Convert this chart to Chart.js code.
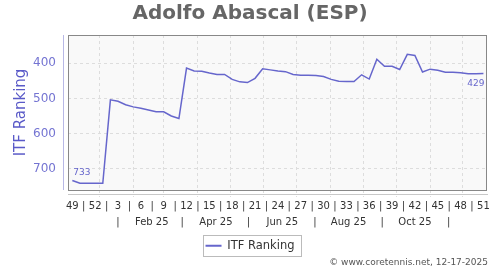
<!DOCTYPE html>
<html><head><meta charset="utf-8">
<script src="https://cdn.jsdelivr.net/npm/chart.js@4"></script>
<style>html,body{margin:0;padding:0;background:#fff}#w{width:500px;height:270px;position:relative}</style>
</head><body><div id="w"><canvas id="c"></canvas></div>
<script>
const chartTitle = 'Adolfo Abascal (ESP)';
const seriesName = 'ITF Ranking';
const footerText = '\u00A9 www.coretennis.net, 12-17-2025';
// week numbers shown on the first axis row (every 3rd week, from week 49 of 2024)
const weekTicks = [49, 52, 3, 6, 9, 12, 15, 18, 21, 24, 27, 30, 33, 36, 39, 42, 45, 48, 51];
// weekly ITF ranking, week 49/2024 .. week 51/2025
const rankings = [733, 741, 741, 741, 741, 504, 508, 518, 524, 528, 533, 538, 538, 550, 557,
  414, 422, 423, 428, 432, 432, 446, 453, 455, 443, 416, 419, 422, 424, 432, 434, 434, 435, 438, 446,
  451, 452, 452, 433, 445, 389, 409, 409, 418, 375, 378, 425, 417, 420, 426, 426, 427, 430, 430, 429];
const monthLabels = ['Feb 25', 'Apr 25', 'Jun 25', 'Aug 25', 'Oct 25'];
const monthLabelMonths = [1, 3, 5, 7, 9];
const monthSepMonths = [0, 2, 4, 6, 8, 10];
const yTicks = [400, 500, 600, 700];

const LINE = '#6666cc';
const FONT = 'DejaVu Sans';
const DAY = 864e5, START = Date.UTC(2024, 11, 7);
const wk = (y, m, d) => (Date.UTC(y, m, d) - START) / (7 * DAY);

const points = rankings.map((v, i) => ({x: i, y: v}));
const row1 = [];
weekTicks.forEach((w, i) => {
  row1.push({value: i * 3, label: String(w)});
  if (i < weekTicks.length - 1) row1.push({value: i * 3 + 1.5, label: '|'});
});
const row2 = [];
monthSepMonths.forEach(m => row2.push({value: wk(2025, m, 18), label: '|'}));
monthLabelMonths.forEach((m, i) => row2.push({value: wk(2025, m, 18), label: monthLabels[i]}));
row2.sort((a, b) => a.value - b.value);
const monthStarts = [];
for (let m = 0; m < 12; m++) monthStarts.push(wk(2025, m, 1));

const XMIN = -0.57, XMAX = 54.47;

const framePlugin = {
  id: 'frame',
  beforeDraw(chart) {
    const a = chart.chartArea, ctx = chart.ctx;
    ctx.save();
    ctx.fillStyle = '#f9f9f9';
    ctx.fillRect(a.left, a.top, a.right - a.left, a.bottom - a.top);
    ctx.restore();
  },
  beforeDatasetsDraw(chart) {
    const a = chart.chartArea, ctx = chart.ctx;
    ctx.save();
    ctx.strokeStyle = '#888';
    ctx.lineWidth = 1;
    ctx.strokeRect(a.left + 0.5, a.top + 0.5, a.right - a.left - 1, a.bottom - a.top);
    ctx.strokeStyle = '#b8b8e6';
    ctx.beginPath();
    ctx.moveTo(a.left - 4.5, a.top);
    ctx.lineTo(a.left - 4.5, a.bottom);
    ctx.stroke();
    ctx.restore();
  },
  afterDatasetsDraw(chart) {
    const ctx = chart.ctx, meta = chart.getDatasetMeta(0);
    const first = meta.data[0], last = meta.data[meta.data.length - 1];
    ctx.save();
    ctx.font = '9px "' + FONT + '"';
    ctx.fillStyle = LINE;
    ctx.textBaseline = 'middle';
    ctx.textAlign = 'left';
    ctx.fillText(String(rankings[0]), first.x + 1, first.y - 8);
    ctx.textAlign = 'right';
    ctx.fillText(String(rankings[rankings.length - 1]), last.x + 1, last.y + 10);
    ctx.restore();
  },
  afterDraw(chart) {
    const ctx = chart.ctx;
    const hb = chart.legend.legendHitBoxes[0];
    ctx.save();
    if (hb) {
      ctx.strokeStyle = '#bbb';
      ctx.lineWidth = 1;
      ctx.strokeRect(Math.round(hb.left - 3) + 0.5, Math.round(hb.top - 5) + 0.5, Math.round(hb.width + 9), 21);
    }
    ctx.font = '9px "' + FONT + '"';
    ctx.fillStyle = '#555';
    ctx.textAlign = 'right';
    ctx.textBaseline = 'middle';
    ctx.fillText(footerText, 488, 263);
    ctx.restore();
  }
};

new Chart(document.getElementById('c'), {
  type: 'line',
  data: {
    datasets: [{
      label: seriesName,
      data: points,
      borderColor: LINE,
      backgroundColor: LINE,
      borderWidth: 1.5,
      pointRadius: 0,
      tension: 0,
      fill: false
    }]
  },
  options: {
    responsive: true,
    maintainAspectRatio: false,
    animation: false,
    layout: {padding: {left: 13, right: 13, top: 0, bottom: 8.5}},
    scales: {
      y: {
        type: 'linear', reverse: true, min: 320, max: 760,
        afterBuildTicks: s => { s.ticks = yTicks.map(v => ({value: v})); },
        afterFit: s => { s.width = 55; },
        grid: {color: '#dddddd', drawTicks: false},
        border: {display: false, dash: [3, 3]},
        ticks: {padding: 12, color: '#7474d2', font: {family: FONT, size: 12}},
        title: {display: true, text: seriesName, color: '#5a5ac8', font: {family: FONT, size: 15, lineHeight: 1.07}, padding: {top: 0, bottom: 0}}
      },
      xg: {
        type: 'linear', position: 'bottom', weight: 0, min: XMIN, max: XMAX,
        afterBuildTicks: s => { s.ticks = monthStarts.map(v => ({value: v})); },
        afterFit: s => { s.height = 4; },
        grid: {color: '#dddddd', drawTicks: true, tickLength: 7, tickBorderDash: [3, 3]},
        border: {display: false, dash: [3, 3]},
        ticks: {display: false, autoSkip: false}
      },
      x: {
        type: 'linear', position: 'bottom', weight: 1, min: XMIN, max: XMAX,
        afterBuildTicks: s => { s.ticks = row1.map(t => ({value: t.value})); },
        afterFit: s => { s.height = 18; },
        grid: {display: false, drawTicks: false},
        border: {display: true, color: '#c8c8c8', width: 1},
        ticks: {autoSkip: false, maxRotation: 0, padding: 6, color: '#333', font: {family: FONT, size: 10},
          callback: (v, i) => row1[i] ? row1[i].label : ''}
      },
      x2: {
        type: 'linear', position: 'bottom', weight: 2, min: XMIN, max: XMAX,
        afterBuildTicks: s => { s.ticks = row2.map(t => ({value: t.value})); },
        afterFit: s => { s.height = 18; },
        grid: {display: false, drawTicks: false},
        border: {display: false},
        ticks: {autoSkip: false, maxRotation: 0, padding: 4, color: '#333', font: {family: FONT, size: 10},
          callback: (v, i) => row2[i] ? row2[i].label : ''}
      }
    },
    plugins: {
      title: {display: true, text: chartTitle, color: '#666', font: {family: FONT, size: 20, weight: 'bold'}, padding: {top: 2, bottom: 9}},
      legend: {
        position: 'bottom',
        labels: {
          color: '#333', font: {family: FONT, size: 11.5}, boxWidth: 16, boxHeight: 2, padding: 10,
          generateLabels: chart => Chart.defaults.plugins.legend.labels.generateLabels(chart).map(l => Object.assign(l, {lineWidth: 0}))
        }
      },
      tooltip: {enabled: false}
    }
  },
  plugins: [framePlugin]
});
</script>
</body></html>
